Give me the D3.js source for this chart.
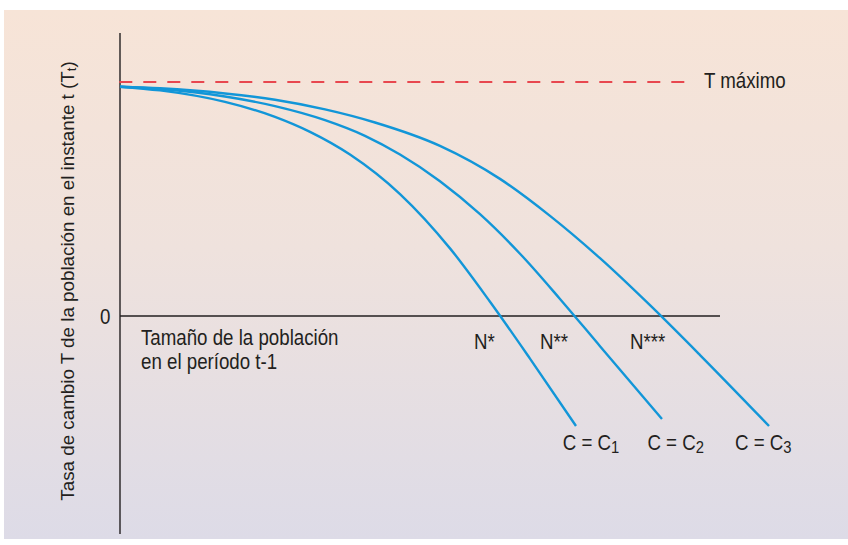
<!DOCTYPE html>
<html>
<head>
<meta charset="utf-8">
<script src="https://cdn.jsdelivr.net/npm/d3@7"></script>
<style>
  html, body { margin: 0; padding: 0; background: #ffffff; }
  svg { display: block; }
  text { font-family: "Liberation Sans", Arial, Helvetica, sans-serif; fill: #231f20; }
</style>
</head>
<body>
<svg id="chart" width="848" height="545"></svg>
<script>
// ---- data ----
// x: population size in period t-1 (arbitrary units), y: rate of change T (T máximo = 1)
const seriesNames = ["C1", "C2", "C3"];
const c1N = [0, 6.67, 17.5, 25.83, 31.67, 38.33, 46.67, 55, 61.67, 68.33, 76];
const c1T = [0.980, 0.964, 0.915, 0.851, 0.787, 0.690, 0.521, 0.289, 0.061, -0.182, -0.470];
const c2N = [0, 6.67, 17.5, 25.83, 34.17, 40.83, 46.67, 53.33, 60, 66.67, 73.33, 80, 90.33];
const c2T = [0.980, 0.970, 0.938, 0.897, 0.837, 0.770, 0.690, 0.576, 0.435, 0.266, 0.073, -0.129, -0.440];
const c3N = [0, 6.67, 17.5, 25.83, 34.17, 42.5, 53.33, 63.33, 71.67, 80, 88.33, 96.67, 108.17];
const c3T = [0.980, 0.973, 0.951, 0.924, 0.883, 0.827, 0.727, 0.586, 0.428, 0.247, 0.046, -0.167, -0.470];
const tMax = 1;
const nLabels = ["N*", "N**", "N***"];
const curveLabelMain = ["C = C", "C = C", "C = C"];
const curveLabelSub = ["1", "2", "3"];
const zeroLabel = "0";
const tMaxLabel = "T máximo";
const xTitleLines = ["Tamaño de la población", "en el período t-1"];
const yTitleMain = "Tasa de cambio T de la población en el instante t (T";
const yTitleSub = "t";

// ---- layout ----
const W = 848, H = 545;
const svg = d3.select("#chart");
const x = d3.scaleLinear().domain([0, 100]).range([120, 720]);
const y = d3.scaleLinear().domain([0, 1]).range([316, 82]);

// background panel with gradient
const defs = svg.append("defs");
const grad = defs.append("linearGradient").attr("id", "bg").attr("x1", 0).attr("y1", 0).attr("x2", 0).attr("y2", 1);
grad.append("stop").attr("offset", "0%").attr("stop-color", "#f7e4d7");
grad.append("stop").attr("offset", "45%").attr("stop-color", "#efe2dd");
grad.append("stop").attr("offset", "100%").attr("stop-color", "#dddbe7");
svg.append("rect").attr("x", 4).attr("y", 10).attr("width", W - 4).attr("height", 529).attr("fill", "url(#bg)");

// axes
const yAxisTop = y.invert(33), yAxisBottom = y.invert(534);
svg.append("line")
  .attr("x1", x(0)).attr("x2", x(0)).attr("y1", y(yAxisTop)).attr("y2", y(yAxisBottom))
  .attr("stroke", "#231f20").attr("stroke-width", 1.4);
svg.append("line")
  .attr("x1", x(0)).attr("x2", x(100)).attr("y1", y(0)).attr("y2", y(0))
  .attr("stroke", "#231f20").attr("stroke-width", 1.4);

// T máximo dashed line
svg.append("line")
  .attr("x1", x(0) - 0.7).attr("x2", x(94.2)).attr("y1", y(tMax)).attr("y2", y(tMax))
  .attr("stroke", "#e8474f").attr("stroke-width", 2)
  .attr("stroke-dasharray", "13,11");

// curves
const series = [
  { name: seriesNames[0], pts: c1N.map((n, i) => [n, c1T[i]]) },
  { name: seriesNames[1], pts: c2N.map((n, i) => [n, c2T[i]]) },
  { name: seriesNames[2], pts: c3N.map((n, i) => [n, c3T[i]]) }
];
const line = d3.line().x(d => x(d[0])).y(d => y(d[1])).curve(d3.curveMonotoneX);
svg.append("g").selectAll("path").data(series).join("path")
  .attr("d", d => line(d.pts))
  .attr("fill", "none")
  .attr("stroke", "#1296d8")
  .attr("stroke-width", 2.4)
  .attr("stroke-linecap", "butt");

// text helper: slightly condensed horizontal labels
const SX = 0.87, FS = 21.5;
function label(px, py, main, sub) {
  const t = svg.append("text")
    .attr("transform", `translate(${px},${py}) scale(${SX},1)`)
    .attr("font-size", FS);
  t.append("tspan").text(main);
  if (sub) t.append("tspan").attr("font-size", 17).attr("dy", 2.5).text(sub);
  return t;
}

// zero label
label(100, 323.5, zeroLabel).attr("text-anchor", "start");

// T máximo label
label(704, 87.5, tMaxLabel);

// x title (two lines)
label(141, 345, xTitleLines[0]);
label(141, 368.5, xTitleLines[1]);

// N labels
const nPos = [59, 70, 85]; // x in data units where each label starts
nLabels.forEach((s, i) => label(x(nPos[i]), 348.5, s));

// curve labels
const cPos = [73.8, 87.9, 102.5];
curveLabelMain.forEach((s, i) => label(x(cPos[i]), 450, s, curveLabelSub[i]));

// y title (rotated)
const yt = svg.append("text")
  .attr("transform", `translate(73.5,281) rotate(-90)`)
  .attr("text-anchor", "middle")
  .attr("font-size", 18.8);
yt.append("tspan").text(yTitleMain);
yt.append("tspan").attr("font-size", 13).attr("dy", 2).text(yTitleSub);
yt.append("tspan").attr("dy", -2).text(")");
</script>
</body>
</html>
